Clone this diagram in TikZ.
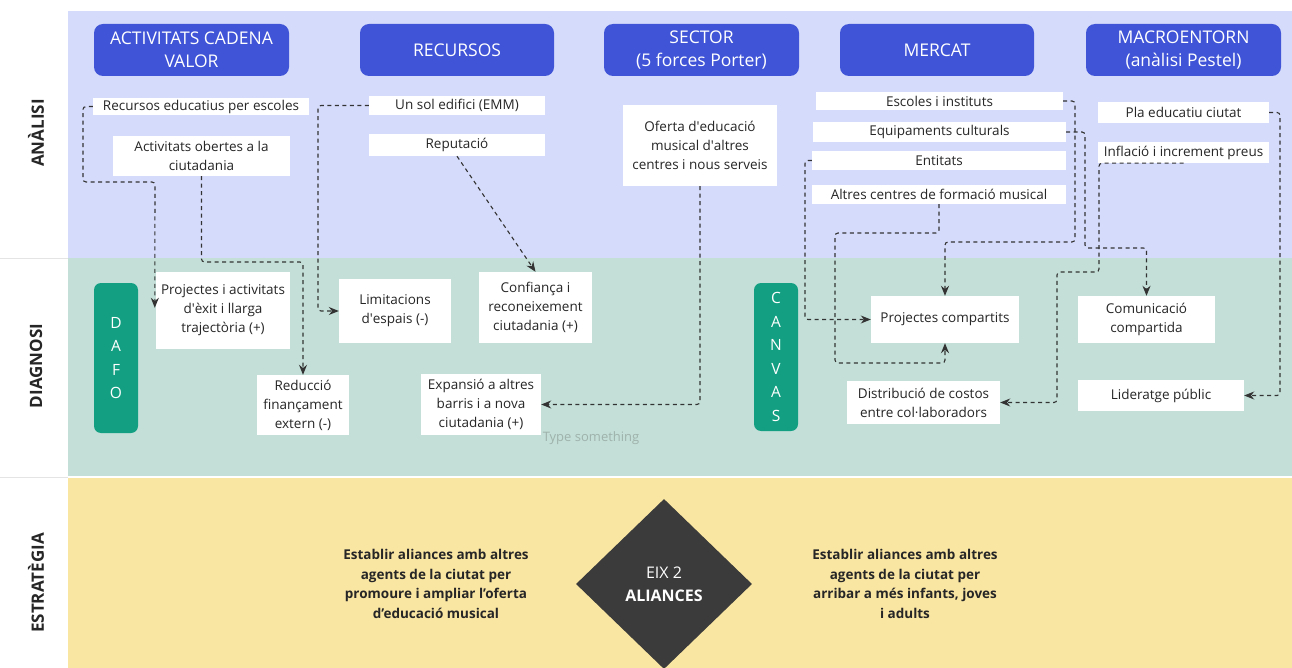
\documentclass[tikz,border=0pt]{standalone}
\usepackage{fontspec}
\setmainfont{Open Sans}
\usetikzlibrary{arrows.meta,shapes.geometric}
\definecolor{bandA}{HTML}{D5DBFA}
\definecolor{bandB}{HTML}{C3DFD7}
\definecolor{bandC}{HTML}{FAE6A3}
\definecolor{hblue}{HTML}{3F54D7}
\definecolor{dgreen}{HTML}{13A082}
\definecolor{diac}{HTML}{3B3B3B}
\definecolor{txt}{HTML}{262626}
\definecolor{lnk}{HTML}{333333}
\definecolor{sepl}{HTML}{E4E4E4}
\definecolor{ghost}{HTML}{9FB2AC}
\newcommand\sq{\XeTeXglyph\XeTeXcharglyph"27\relax}
\newcommand\wbox[6]{%
  \node[wbox, minimum width={(#4-#2)*1pt}, minimum height={(#5-#3)*1pt}] (#1) at ({(#2+#4)/2},{(#3+#5)/2}) {#6};}
\newcommand\headbox[6]{%
  \node[hdr, minimum width={(#4-#2)*1pt}, minimum height={(#5-#3)*1pt}] (#1) at ({(#2+#4)/2},{(#3+#5)/2}) {#6};}
\begin{document}
\begin{tikzpicture}[x=1pt,y=-1pt,
  wbox/.style={fill=white, draw=none, inner sep=1pt, align=center, text=txt, font=\fontsize{13.5}{19}\selectfont},
  hdr/.style={fill=hblue, rounded corners=9pt, inner sep=1pt, align=center, text=white, font=\fontsize{17.5}{23}\selectfont},
  greenbar/.style={fill=dgreen, rounded corners=7pt, inner sep=0pt, align=center, text=white, font=\fontsize{15.5}{23.5}\selectfont},
  sidelab/.style={rotate=90, text=txt, font=\fontsize{17}{20}\selectfont\bfseries},
  strat/.style={align=center, text=txt, font=\fontsize{13.5}{19.5}\selectfont\bfseries},
  link/.style={draw=lnk, line width=1.1pt, dash pattern=on 4pt off 3.5pt, rounded corners=3pt},
  arr/.style={-{Stealth[length=10pt,width=8pt]}}
]
\useasboundingbox (0,0) rectangle (1292,668);
\fill[white] (0,0) rectangle (1292,668);
% bands
\fill[bandA] (68,11) rectangle (1292,258);
\fill[bandB] (68,258) rectangle (1292,476);
\fill[bandC] (68,478) rectangle (1292,668);
\draw[sepl, line width=0.8pt] (0,258) -- (68,258);
\draw[sepl, line width=0.8pt] (0,477) -- (68,477);
% side labels
\node[sidelab] (lA) at (36,133) {ANÀLISI};
\node[sidelab] (lB) at (36,366) {DIAGNOSI};
\node[sidelab] (lC) at (36,583) {ESTRATÈGIA};
% headers
\headbox{h1}{94}{24}{289}{76}{ACTIVITATS CADENA\\VALOR}
\headbox{h2}{360}{24}{554}{76}{RECURSOS}
\headbox{h3}{604}{24}{799}{76}{SECTOR\\(5 forces Porter)}
\headbox{h4}{840}{24}{1034}{76}{MERCAT}
\headbox{h5}{1086}{24}{1281}{76}{MACROENTORN\\(anàlisi Pestel)}
% analysis boxes
\wbox{rec}{93}{98}{309}{115}{Recursos educatius per escoles}
\wbox{act}{113}{136}{290}{176}{Activitats obertes a la\\ciutadania}
\wbox{sol}{369}{96}{545}{115}{Un sol edifici (EMM)}
\wbox{rep}{369}{134}{545}{156}{Reputació}
\wbox{ofe}{623}{105}{777}{186}{Oferta d\sq educació\\musical d\sq altres\\centres i nous serveis}
\wbox{esc}{816}{92}{1063}{110}{Escoles i instituts}
\wbox{equ}{813}{122}{1066}{142}{Equipaments culturals}
\wbox{ent}{812}{151}{1066}{170}{Entitats}
\wbox{alt}{812}{185}{1066}{204}{Altres centres de formació musical}
\wbox{pla}{1098}{102}{1269}{123}{Pla educatiu ciutat}
\wbox{inf}{1098}{142}{1269}{163}{Inflació i increment preus}
% diagnosis
\node[greenbar, minimum width=44pt, minimum height=150pt] (dafo) at (116,358) {D\\A\\F\\O};
\node[greenbar, minimum width=44pt, minimum height=148pt] (canvas) at (776,357) {C\\A\\N\\V\\A\\S};
\wbox{proj1}{156}{272}{290}{349}{Projectes i activitats\\d\sq èxit i llarga\\trajectòria (+)}
\wbox{lim}{339}{279}{451}{343}{Limitacions\\d\sq espais (-)}
\wbox{red}{257}{375}{349}{435}{Reducció\\finançament\\extern (-)}
\wbox{conf}{479}{272}{592}{343}{Confiança i\\reconeixement\\ciutadania (+)}
\wbox{exp}{421}{374}{541}{435}{Expansió a altres\\barris i a nova\\ciutadania (+)}
\wbox{pc}{871}{296}{1019}{343}{Projectes compartits}
\wbox{com}{1078}{296}{1215}{343}{Comunicació\\compartida}
\wbox{dis}{847}{381}{1000}{424}{Distribució de costos\\entre col·laboradors}
\wbox{lid}{1078}{380}{1244}{411}{Lideratge públic}
\node[text=ghost, font=\fontsize{13}{16}\selectfont] (ghost) at (591,438) {Type something};
% strategy
\node[diamond, fill=diac, minimum width=176pt, minimum height=170pt, inner sep=0pt, text=white, align=center, font=\fontsize{16}{23}\selectfont] (eix) at (664,584) {EIX 2\\\textbf{ALIANCES}};
\node[strat] (s1) at (436,584) {Establir aliances amb altres\\agents de la ciutat per\\promoure i ampliar l’oferta\\d’educació musical};
\node[strat] (s2) at (905,584) {Establir aliances amb altres\\agents de la ciutat per\\arribar a més infants, joves\\i adults};
% connectors
\draw[link,arr] (rec.west) -| (83,182) -- (155,182) -- ([xshift=-1pt,yshift=-36pt]proj1.north west);
\draw[link,arr] (act.south) |- (303,262) -- (red.north);
\draw[link,arr] (sol.west) -| (318,311) -- (lim.west);
\draw[link,arr] (rep.south) -- (conf.north);
\draw[link,arr] (ofe.south) |- (exp.east);
\draw[link,arr] (esc.east) -| (1075,242) -| (pc.north);
\draw[link,arr] (equ.east) -| (1085,248) -| (com.north);
\draw[link,arr] (ent.west) -| (805,319.5) -- (pc.west);
\draw[link,arr] (alt.south) |- (835,233) -- (835,363) -| (pc.south);
\draw[link,arr] (pla.east) -| (1280,395.5) -- (lid.east);
\draw[link,arr] (inf.south) -| (1099,272) -| (1057,402.5) -- (dis.east);
\end{tikzpicture}
\end{document}
